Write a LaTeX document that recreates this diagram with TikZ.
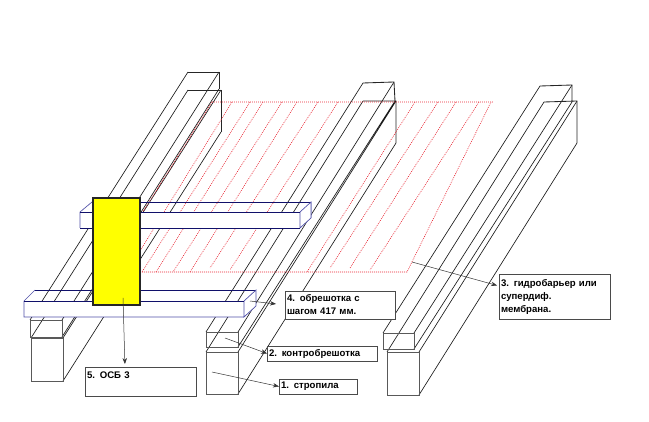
\documentclass[tikz,border=0pt]{standalone}
\usepackage{fontspec}
\setmainfont{Liberation Sans}
\usetikzlibrary{arrows.meta}
\definecolor{navyedge}{HTML}{10106A}
\definecolor{blueedge}{HTML}{5050A8}
\definecolor{hatchred}{HTML}{E8202C}
\definecolor{boxedge}{HTML}{4A4A4A}
\definecolor{pureyellow}{RGB}{255,255,0}
\tikzset{
  oblique/.style={draw=black!90,line width=0.65pt},
  frontface/.style={draw=black!65,line width=0.9pt},
  endline/.style={draw=black!85,line width=0.85pt},
  memb/.style={draw=hatchred,line width=0.6pt,dash pattern=on 0.9pt off 1.1pt},
  navyline/.style={draw=navyedge,line width=0.8pt},
  blueline/.style={draw=blueedge,line width=0.7pt},
  labelbox/.style={draw=boxedge,line width=0.9pt,fill=white,inner sep=2pt,outer sep=0pt,
    font=\bfseries\fontsize{9.6}{13}\selectfont,align=left},
  callout/.style={draw=black!80,line width=0.5pt,-{Stealth[length=6pt,width=4.5pt]}}
}
\begin{document}
\begin{tikzpicture}[x=1pt,y=-1pt]
\useasboundingbox (0,0) rectangle (649,422);
% rafter and counter-batten 1
\draw[oblique] (30,320)--(188,72) (62,320)--(219,72) (62,337)--(219,89)
  (31,338)--(188,90) (63,338)--(221,90) (63,381)--(221,132);
\draw[endline] (188,72)--(219,72)--(219,89) (188,90)--(221,90)--(221,132);
\draw[frontface] (30,320) rectangle (62,337) (31,338) rectangle (63,381);
% rafter and counter-batten 2
\draw[oblique] (206,332)--(363,83) (238,332)--(394,82) (238,347)--(395,101)
  (206,352)--(363,101) (238,352)--(396,101) (238,394)--(396,143);
\draw[endline] (363,83)--(394,82)--(395,101) (363,101)--(396,101)--(396,143);
\draw[frontface] (206,332) rectangle (238,347) (206,352) rectangle (238,394);
% rafter and counter-batten 3
\draw[oblique] (383,333)--(540,86) (414,333)--(572,85) (414,349)--(572,102)
  (387,352)--(544,102) (419,352)--(577,101) (419,395)--(577,143);
\draw[endline] (540,86)--(572,85)--(572,102) (544,102)--(577,101)--(577,143);
\draw[frontface] (383,333) rectangle (414,349) (387,352) rectangle (419,395);
% membrane
\draw[memb] (212,102)--(493,102) (212,102)--(105,272)--(407,272)--(491,102);
\foreach \xt/\xb/\yb in {232/127/272,250/142/272,263/156/272,282/173/272,297/190/272,
  318/210/268,338/230/270,415/307/272,438/330/268,456/350/268,479/370/270}
  \draw[memb] (\xt,102)--(\xb,\yb);
% upper batten
\draw[navyline] (92,202)--(311,202);
\draw[blueline] (80,212)--(92,202) (311,202)--(311,218);
\fill[white] (80,212) rectangle (300,228);
\fill[white] (300,212)--(311,202)--(311,218)--(300,228)--cycle;
\draw[blueline] (80,212)--(80,228) (300,212)--(300,228)--(311,218)--(311,202)--cycle;
\draw[navyline] (80,212)--(300,212) (80,228)--(300,228);
% lower batten
\draw[navyline] (35,290)--(256,290);
\draw[blueline] (24,301)--(35,290);
\fill[white] (24,301) rectangle (244,317);
\fill[white] (244,301)--(256,290)--(256,306)--(244,317)--cycle;
\draw[blueline] (24,301)--(24,317)--(244,317) (244,301)--(244,317)--(256,306)--(256,290)--cycle;
\draw[navyline] (24,301)--(244,301);
% OSB sheet
\draw[fill=pureyellow,draw=black!85,line width=1.3pt] (93,198) rectangle (140,305);
% labels
\node[labelbox,minimum width=78pt,minimum height=15pt,text width=74pt] (box1) at (318,386.5) {1. стропила};
\node[labelbox,minimum width=110pt,minimum height=15pt,text width=106pt] (box2) at (322,353.5) {2. контробрешотка};
\node[labelbox,minimum width=111pt,minimum height=45pt,text width=107pt] (box3) at (554.5,296.5) {3. гидробарьер или\\супердиф.\\мембрана.};
\node[labelbox,minimum width=110pt,minimum height=28pt,text width=106pt] (box4) at (340,305) {4. обрешотка с\\шагом 417 мм.};
\node[labelbox,minimum width=111pt,minimum height=29pt,text width=107pt] (box5) at (140.5,381.5) {5. ОСБ 3\\\mbox{}};
% callouts
\coordinate (t1) at (212,372);
\coordinate (t2) at (225,338);
\coordinate (t3) at (412,262);
\coordinate (t4) at (250,301);
\coordinate (t5) at (123,298);
\draw[callout] (t1)--(box1.west);
\draw[callout] (t2)--(box2.west);
\draw[callout,shorten >=2pt] (t3)--([yshift=10.5pt]box3.west);
\draw[callout,shorten >=9pt] (t4)--(box4.west);
\draw[callout,shorten >=3pt] (t5)--([xshift=-15.5pt]box5.north);
\end{tikzpicture}
\end{document}
